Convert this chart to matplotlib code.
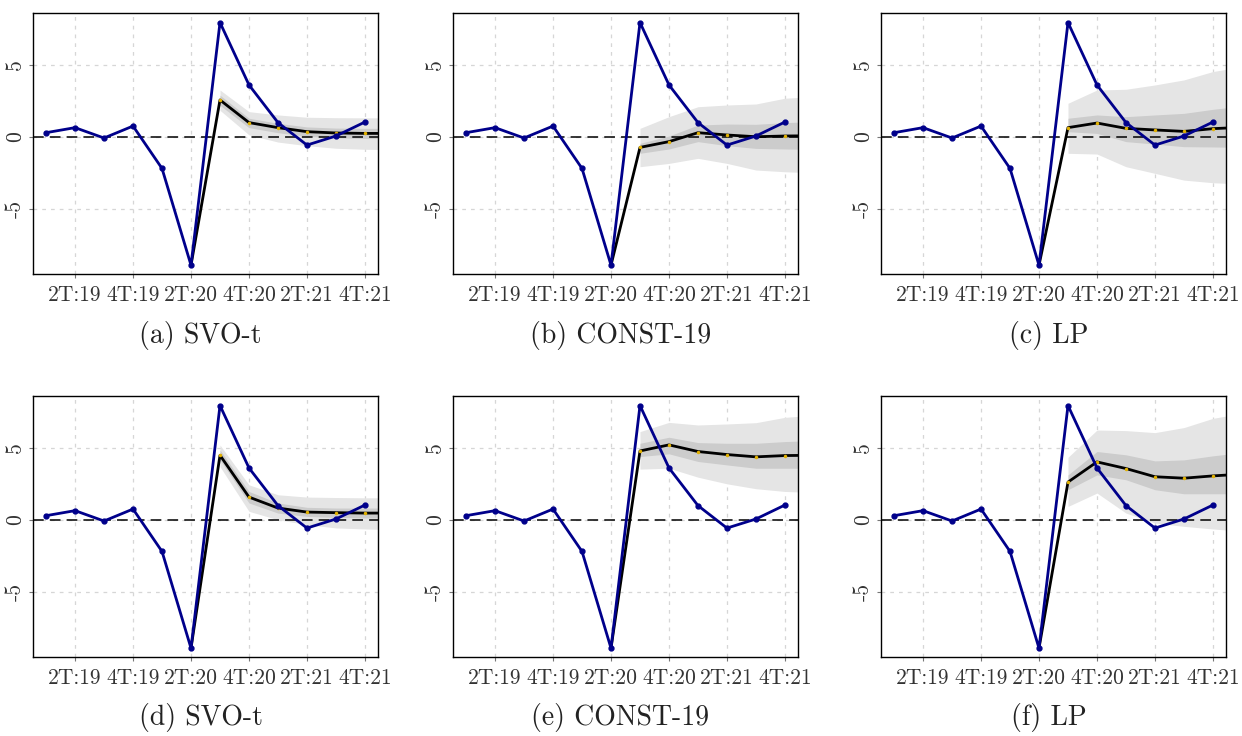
import numpy as np
import matplotlib
matplotlib.use("Agg")
import matplotlib.pyplot as plt

plt.rcParams['font.family'] = ['cmr10', 'DejaVu Serif']
plt.rcParams['axes.unicode_minus'] = False

# quarters 1T:19 .. 4T:21 (index 0..11), forecasts run to index 12 (clipped)
tick_pos = [1, 3, 5, 7, 9, 11]
tick_labels = ["2T:19", "4T:19", "2T:20", "4T:20", "2T:21", "4T:21"]

observed = [0.30, 0.65, -0.07, 0.76, -2.18, -8.89, 7.94, 3.61, 1.00, -0.56, 0.07, 1.04]

# forecast start value (2T:20) then indices 6..12
fc_start = -8.89

titles = ["(a) SVO-t", "(b) CONST-19", "(c) LP",
          "(d) SVO-t", "(e) CONST-19", "(f) LP"]

median = [
    [2.57, 1.00, 0.65, 0.37, 0.28, 0.25, 0.25],
    [-0.72, -0.32, 0.30, 0.14, 0.02, 0.07, 0.09],
    [0.65, 0.97, 0.60, 0.49, 0.39, 0.58, 0.67],
    [4.49, 1.59, 0.83, 0.55, 0.51, 0.48, 0.48],
    [4.79, 5.21, 4.75, 4.54, 4.38, 4.47, 4.49],
    [2.63, 4.03, 3.57, 3.00, 2.90, 3.06, 3.18],
]
outer_lo = [
    [1.85, 0.15, -0.35, -0.60, -0.78, -0.85, -0.88],
    [-2.06, -1.83, -1.48, -1.83, -2.29, -2.41, -2.48],
    [-1.13, -1.18, -2.06, -2.52, -2.99, -3.17, -3.26],
    [3.70, 0.60, 0.02, -0.32, -0.55, -0.62, -0.67],
    [3.53, 3.59, 2.97, 2.51, 2.17, 1.98, 1.91],
    [0.94, 1.87, 0.48, -0.21, -0.44, -0.62, -0.78],
]
outer_hi = [
    [3.26, 1.76, 1.53, 1.37, 1.34, 1.33, 1.33],
    [0.60, 1.41, 2.10, 2.22, 2.29, 2.69, 2.80],
    [2.34, 3.26, 3.31, 3.61, 3.96, 4.54, 4.88],
    [5.20, 2.44, 1.75, 1.59, 1.56, 1.54, 1.54],
    [6.13, 6.77, 6.59, 6.66, 6.75, 7.12, 7.26],
    [4.35, 6.24, 6.20, 6.06, 6.41, 7.05, 7.40],
]
inner_lo = [
    [2.20, 0.65, 0.30, 0.05, -0.05, -0.10, -0.10],
    [-1.13, -0.83, -0.32, -0.60, -0.79, -0.83, -0.86],
    [0.37, 0.25, -0.32, -0.49, -0.67, -0.69, -0.72],
    [4.17, 1.18, 0.48, 0.25, 0.18, 0.14, 0.14],
    [4.40, 4.59, 4.06, 3.82, 3.59, 3.59, 3.59],
    [2.10, 3.13, 2.79, 2.10, 1.82, 1.82, 1.82],
]
inner_hi = [
    [2.90, 1.30, 0.95, 0.70, 0.62, 0.60, 0.60],
    [-0.44, 0.07, 0.83, 0.90, 0.88, 1.00, 1.06],
    [1.30, 1.53, 1.41, 1.53, 1.64, 1.92, 2.15],
    [4.86, 1.98, 1.18, 0.88, 0.83, 0.83, 0.83],
    [5.32, 5.74, 5.37, 5.32, 5.32, 5.44, 5.51],
    [3.13, 4.75, 4.52, 4.10, 4.17, 4.45, 4.68],
]

W, H = 1242, 736
fig = plt.figure(figsize=(W / 100, H / 100), dpi=100)

lefts = [33, 453, 881]
tops = [13, 396]
pw, ph = 345, 261

x_obs = np.arange(len(observed))
x_fc = np.arange(6, 13)

for k in range(6):
    r, c = divmod(k, 3)
    ax = fig.add_axes([lefts[c] / W, 1 - (tops[r] + ph) / H, pw / W, ph / H])

    ax.fill_between(x_fc, outer_lo[k], outer_hi[k], color="#e5e5e5", lw=0, zorder=1)
    ax.fill_between(x_fc, inner_lo[k], inner_hi[k], color="#cccccc", lw=0, zorder=1.1)

    ax.axhline(0, color="black", lw=1.1, ls=(0, (7, 4)), zorder=2)

    ax.plot(np.r_[5, x_fc], np.r_[fc_start, median[k]], color="black", lw=2, zorder=3)
    ax.plot(x_fc[:-1], median[k][:-1], ls="none", marker="o", ms=1.5,
            color="#e0b000", zorder=3.5)

    ax.plot(x_obs, observed, color="#00008b", lw=2, marker="o", ms=3.5, zorder=4)

    ax.set_xlim(-0.45, 11.45)
    ax.set_ylim(-9.5, 8.6)
    ax.set_xticks(tick_pos)
    ax.set_xticklabels(tick_labels)
    ax.set_yticks([-5, 0, 5])
    ax.set_yticklabels(["-5", "0", "5"], rotation=90, va="center")
    ax.tick_params(axis="both", labelsize=15.5, colors="#333333", length=3,
                   width=0.8, color="#777777", pad=3)
    ax.tick_params(axis="x", pad=5)
    ax.grid(True, color="#d6d6d6", ls=(0, (3, 4)), lw=0.9)
    ax.set_axisbelow(True)
    for s in ax.spines.values():
        s.set_color("black")
        s.set_linewidth(1.0)

    cap_y = 1 - (tops[r] + ph + 61) / H
    fig.text((lefts[c] + pw / 2 - 5) / W, cap_y, titles[k], ha="center", va="center",
             fontsize=20, color="#222222")

fig.savefig("out.png", dpi=100)
